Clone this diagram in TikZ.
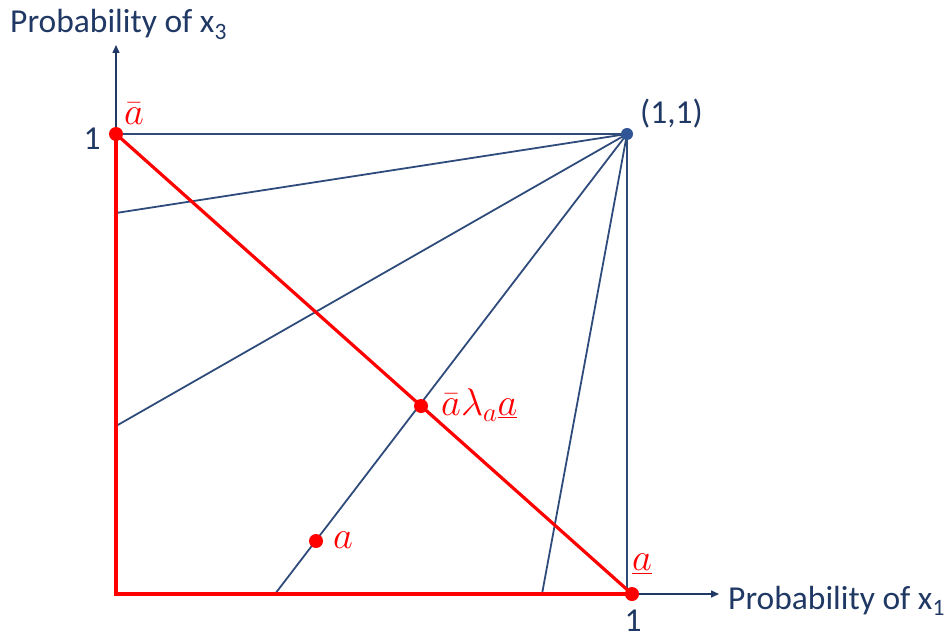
\documentclass[tikz,border=0pt]{standalone}
\usepackage{graphicx}
\usepackage{fontspec}
\setmainfont{Carlito}
\usetikzlibrary{arrows.meta}
\definecolor{dblue}{HTML}{203864}
\definecolor{lblue}{HTML}{2F4B7C}
\definecolor{dotblue}{HTML}{2F5597}
\definecolor{myred}{HTML}{FF0000}
\newcommand{\mybigmath}[1]{\scalebox{1.55}{$#1$}}
\tikzset{
  axis/.style={draw=dblue, line width=1.5pt, -{Triangle[length=8pt,width=7pt]}},
  ray/.style={draw=lblue, line width=1.8pt},
  redline/.style={draw=myred, line width=3.2pt},
  reddot/.style={circle, fill=myred, inner sep=0pt, minimum size=14pt},
  bluedot/.style={circle, fill=dotblue, inner sep=0pt, minimum size=12pt},
  lbl/.style={text=dblue, font=\fontsize{33.5}{38}\selectfont, inner sep=0pt},
  rlbl/.style={text=myred, font=\fontsize{24}{28}\selectfont, inner sep=0pt},
}
\begin{document}
\begin{tikzpicture}[x=1pt,y=-1pt]
\useasboundingbox (0,0) rectangle (949,639);
% coordinates
\coordinate (O) at (116,594);
\coordinate (ytip) at (116,45);
\coordinate (xtip) at (719,594);
\coordinate (P11) at (627,134);
\coordinate (Abar) at (116,134);
\coordinate (Aund) at (632,594);
\coordinate (Y1) at (116,213);
\coordinate (Y2) at (116,426);
\coordinate (X1) at (275,594);
\coordinate (X2) at (542,594);
\coordinate (Xc) at (627,594);
% axes
\draw[axis] (O) -- (ytip);
\draw[axis] (O) -- (xtip);
% rays
\draw[ray] (P11) -- (Abar);
\draw[ray] (P11) -- (Y1);
\draw[ray] (P11) -- (Y2);
\draw[ray] (P11) -- (X1);
\draw[ray] (P11) -- (X2);
\draw[ray] (P11) -- (Xc);
% red triangle
\draw[redline, line join=miter] (Abar) -- (O) -- (Aund);
\draw[redline] (Abar) -- (Aund);
% dots
\node[bluedot] (d11) at (P11) {};
\node[reddot] (dAbar) at (Abar) {};
\node[reddot] (dAund) at (Aund) {};
\node[reddot] (dmid) at (421,406) {};
\node[reddot] (da) at (316,541) {};
% labels
\node[lbl, anchor=base west] (ty) at (10,33) {Probability of x\textsubscript{3}};
\node[lbl, anchor=base west] (tx) at (728,609) {Probability of x\textsubscript{1}};
\node[lbl] (one1) at (92,139) {1};
\node[lbl] (one2) at (633,621) {1};
\node[lbl, anchor=west] (l11) at (640,114) {(1,1)};
\node[rlbl] (lAbar) at (134,114) {\mybigmath{\bar{a}}};
\node[rlbl] (lAund) at (642,564) {\mybigmath{\underline{a}}};
\node[rlbl, anchor=west] (lmid) at (441,405) {\mybigmath{\bar{a}\lambda_a\underline{a}}};
\node[rlbl] (la) at (343,540) {\mybigmath{a}};
\end{tikzpicture}
\end{document}
